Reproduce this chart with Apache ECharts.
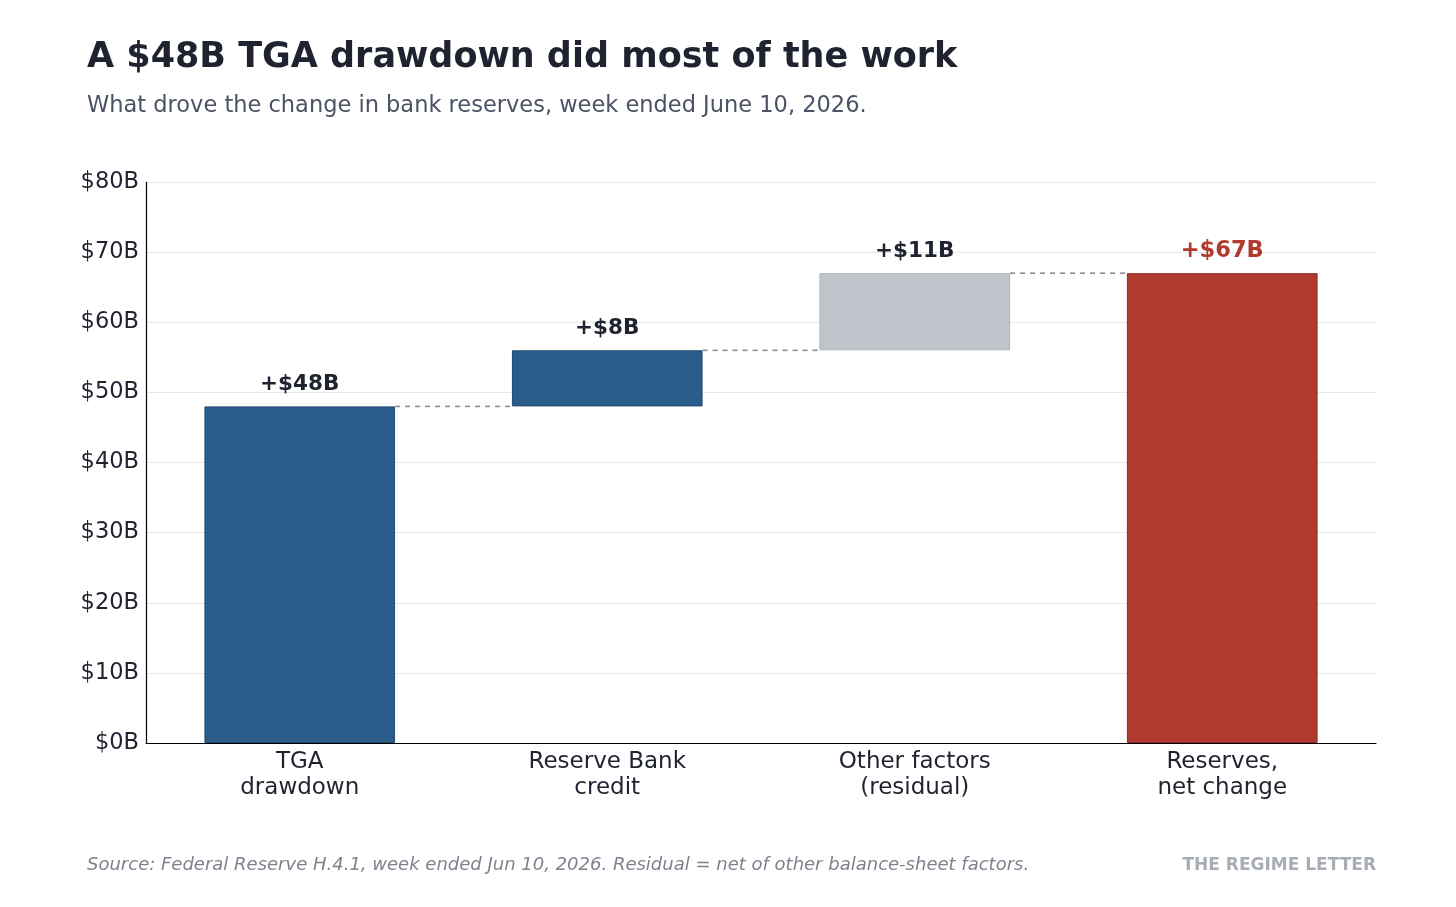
<!DOCTYPE html>
<html>
<head>
<meta charset="utf-8">
<title>A $48B TGA drawdown did most of the work</title>
<script src="https://cdn.jsdelivr.net/npm/echarts@6/dist/echarts.min.js"></script>
<style>
  html, body { margin: 0; padding: 0; background: #fff; }
  #chart { width: 1456px; height: 907px; }
</style>
</head>
<body>
<div id="chart"></div>
<script>
// categories and values (billions)
var categories = ['TGA\ndrawdown', 'Reserve Bank\ncredit', 'Other factors\n(residual)', 'Reserves,\nnet change'];
var baseValues = [0, 48, 56, 0];
var deltaValues = [48, 8, 11, 67];
var barLabels = ['+$48B', '+$8B', '+$11B', '+$67B'];
var yTicks = [0, 10, 20, 30, 40, 50, 60, 70, 80];

var fillColors = ['#2a5d8a', '#2a5d8a', '#c1c5cb', '#b03a2e'];
var edgeColors = ['#1f4a70', '#1f4a70', '#aeb3ba', '#8e2a20'];
var labelColors = ['#1f2330', '#1f2330', '#1f2330', '#b03a2e'];

// connector levels: from bar i to bar i+1
var connectors = [[0, 48], [1, 56], [2, 67]];

var FONT = 'DejaVu Sans';
var chart = echarts.init(document.getElementById('chart'));

var option = {
  backgroundColor: '#fff',
  animation: false,
  textStyle: { fontFamily: FONT },
  title: [{
    text: 'A $48B TGA drawdown did most of the work',
    left: 82, top: 35,
    textStyle: { fontFamily: FONT, fontSize: 35, fontWeight: 'bold', color: '#1f2330' }
  }, {
    text: 'What drove the change in bank reserves, week ended June 10, 2026.',
    left: 82, top: 90,
    textStyle: { fontFamily: FONT, fontSize: 22.5, fontWeight: 'normal', color: '#4a5263' }
  }],
  graphic: [{
    type: 'text', left: 87, top: 856,
    style: {
      text: 'Source: Federal Reserve H.4.1, week ended Jun 10, 2026. Residual = net of other balance-sheet factors.',
      font: 'italic 18px "DejaVu Sans"', fill: '#7d838d'
    }
  }, {
    type: 'text', right: 80, top: 857,
    style: {
      text: 'THE REGIME LETTER',
      font: 'bold 17px "DejaVu Sans"', fill: '#a8adb4'
    }
  }],
  grid: { left: 146, right: 80, top: 182, bottom: 164 },
  xAxis: {
    type: 'category',
    data: categories,
    axisLine: { lineStyle: { color: '#000', width: 1.2 } },
    axisTick: { show: false },
    axisLabel: { fontFamily: FONT, fontSize: 23, color: '#1f2330', lineHeight: 26, margin: 6 }
  },
  yAxis: {
    type: 'value',
    min: 0, max: 80, interval: 10,
    axisLine: { show: true, lineStyle: { color: '#000', width: 1.2 } },
    axisTick: { show: false },
    splitLine: { lineStyle: { color: '#e6e8eb', width: 1.2 } },
    axisLabel: {
      fontFamily: FONT, fontSize: 22.5, color: '#1f2330', margin: 7,
      customValues: yTicks,
      formatter: function (v) { return '$' + v + 'B'; }
    }
  },
  series: [{
    name: 'base',
    type: 'bar',
    stack: 'wf',
    barWidth: '62%',
    silent: true,
    itemStyle: { color: 'transparent' },
    data: baseValues
  }, {
    name: 'change',
    type: 'bar',
    stack: 'wf',
    barWidth: '62%',
    z: 3,
    data: deltaValues.map(function (v, i) {
      return {
        value: v,
        itemStyle: { color: fillColors[i], borderColor: edgeColors[i], borderWidth: 1 },
        label: {
          show: true, position: 'top', distance: 11,
          formatter: barLabels[i],
          fontFamily: FONT, fontWeight: 'bold',
          fontSize: i === 3 ? 22.5 : 21.5,
          color: labelColors[i]
        }
      };
    })
  }, {
    name: 'connectors',
    type: 'custom',
    silent: true,
    z: 2,
    renderItem: function (params, api) {
      var i = api.value(0);
      var level = api.value(1);
      var band = api.size([1, 0])[0];
      var half = band * 0.62 / 2;
      var p0 = api.coord([i, level]);
      var p1 = api.coord([i + 1, level]);
      return {
        type: 'line',
        shape: { x1: p0[0] + half, y1: p0[1], x2: p1[0] - half, y2: p1[1] },
        style: { stroke: '#8a8d93', lineWidth: 1.6, lineDash: [5, 5] }
      };
    },
    data: connectors
  }]
};

chart.setOption(option);
window.onresize = chart.resize;
</script>
</body>
</html>
